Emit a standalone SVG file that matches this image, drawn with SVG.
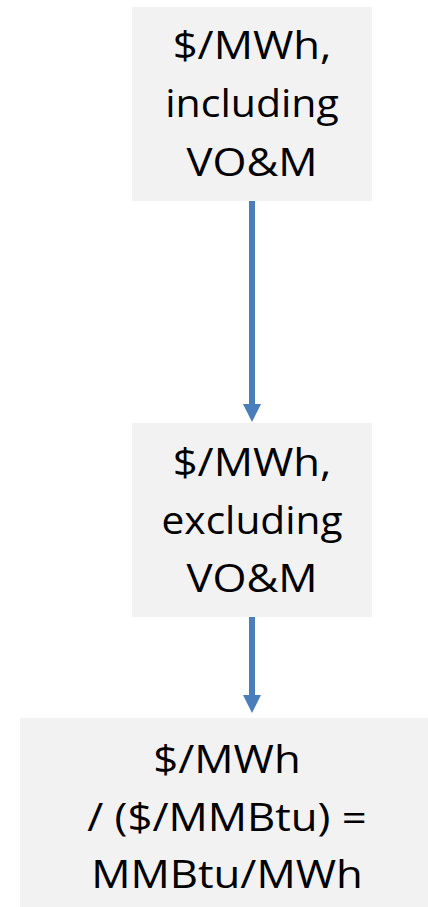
<svg xmlns="http://www.w3.org/2000/svg" width="428" height="907" viewBox="0 0 428 907">
  <style>
    .box { fill: #f2f2f2; }
    .lbl { font-family: "Open Sans", "Liberation Sans", sans-serif; font-size: 38px; fill: #000; text-anchor: middle; }
    .conn { stroke: #4a7ebb; stroke-width: 6; fill: none; }
  </style>
  <defs>
    <marker id="ah" viewBox="0 0 18 18" markerWidth="18" markerHeight="18" refX="0" refY="9" orient="auto" markerUnits="userSpaceOnUse">
      <path d="M0,0 L18,9 L0,18 Z" fill="#4a7ebb"/>
    </marker>
  </defs>
  <rect width="428" height="907" fill="#ffffff"/>
  <g id="node1">
    <rect class="box" x="132" y="7" width="240" height="194"/>
    <g transform="translate(252 0) scale(1.15 1)">
      <text class="lbl" x="0" y="59">$/MWh,</text>
      <text class="lbl" x="0" y="176">VO&amp;M</text>
    </g>
    <g transform="translate(252 0) scale(1.08 1)">
      <text class="lbl" x="0" y="117">including</text>
    </g>
  </g>
  <g id="node2">
    <rect class="box" x="132" y="423" width="240" height="194"/>
    <g transform="translate(252 0) scale(1.15 1)">
      <text class="lbl" x="0" y="476">$/MWh,</text>
      <text class="lbl" x="0" y="592">VO&amp;M</text>
    </g>
    <g transform="translate(252 0) scale(1.07 1)">
      <text class="lbl" x="0" y="534">excluding</text>
    </g>
  </g>
  <g id="node3">
    <rect class="box" x="20" y="718" width="420" height="200"/>
    <g transform="translate(227 0) scale(1.15 1)">
      <text class="lbl" x="0" y="773">$/MWh</text>
      <text class="lbl" x="0" y="831">/ ($/MMBtu) =</text>
      <text class="lbl" x="0" y="888">MMBtu/MWh</text>
    </g>
  </g>
  <g id="connectors">
    <line class="conn" x1="252" y1="201" x2="252" y2="404" marker-end="url(#ah)"/>
    <line class="conn" x1="252" y1="617" x2="252" y2="695" marker-end="url(#ah)"/>
  </g>
</svg>
